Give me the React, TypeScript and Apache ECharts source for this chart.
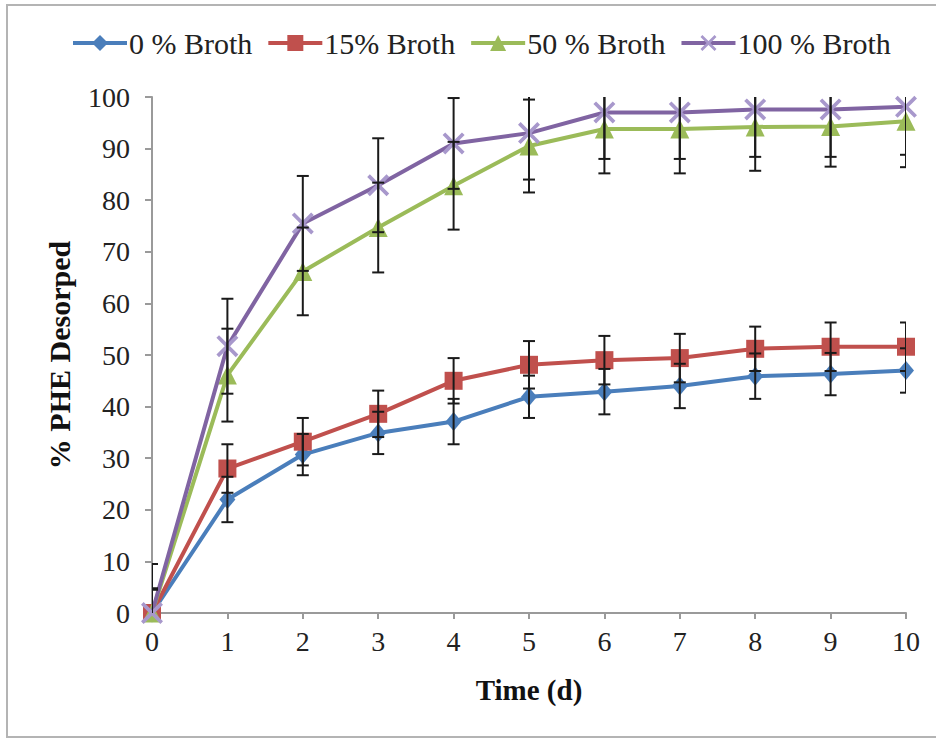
import React, { useEffect, useRef } from "react";
import * as echarts from "echarts";

const days = [0, 1, 2, 3, 4, 5, 6, 7, 8, 9, 10];
const seriesNames = ["0 % Broth", "15% Broth", "50 % Broth", "100 % Broth"];
const broth0 = [0, 22, 30.7, 34.9, 37.1, 41.9, 42.9, 44, 45.9, 46.3, 47];
const broth15 = [0, 28, 33.2, 38.6, 45, 48.1, 49, 49.4, 51.2, 51.6, 51.6];
const broth50 = [0, 46.1, 66.2, 74.7, 82.8, 90.5, 93.8, 93.8, 94.2, 94.3, 95.3];
const broth100 = [0, 51.7, 75.5, 82.9, 91, 93, 97, 97, 97.6, 97.6, 98.1];
const err0 = [4.5, 4.4, 4, 4.1, 4.4, 4.1, 4.4, 4.3, 4.4, 4.1, 4.3];
const err15 = [4.8, 4.7, 4.6, 4.5, 4.4, 4.6, 4.7, 4.7, 4.3, 4.7, 4.7];
const err50 = [9.5, 9, 8.5, 8.7, 8.5, 9, 8.6, 8.6, 8.5, 7.8, 8.9];
const err100 = [9.5, 9.2, 9.2, 9.1, 8.8, 9, 9, 9, 9.2, 9.2, 9.3];
const yTicks = [0, 10, 20, 30, 40, 50, 60, 70, 80, 90, 100];

const colors = ["#4A7EBB", "#C0504D", "#9BBB59", "#8064A2"];
const symbols = [
  "diamond",
  "rect",
  "triangle",
  "path://M0,1.2L1.2,0L10,8.8L8.8,10Z M8.8,0L10,1.2L1.2,10L0,8.8Z",
];
const symbolSizes = [[16, 19], 18, 19, 22];
const FONT = "'Liberation Serif', 'Times New Roman', serif";

export default function App() {
  const ref = useRef<HTMLDivElement>(null);
  useEffect(() => {
    if (!ref.current) return;
    const chart = echarts.init(ref.current, null, { renderer: "svg" });
    const values = [broth0, broth15, broth50, broth100];
    const errs = [err0, err15, err50, err100];

    const lineSeries = values.map((vals, i) => ({
      name: seriesNames[i],
      type: "line",
      data: days.map((d, j) => [d, vals[j]]),
      symbol: symbols[i],
      symbolSize: symbolSizes[i],
      showAllSymbol: true,
      lineStyle: { color: colors[i], width: 4 },
      itemStyle: {
        color: i === 3 ? "#A898CC" : colors[i],
        borderColor: i === 3 ? "#A898CC" : colors[i],
        borderWidth: 0,
      },
      z: 2 + i,
      clip: false,
    }));

    const errSeries = values.map((vals, i) => ({
      type: "custom",
      name: seriesNames[i] + " err",
      data: days.map((d, j) => [d, vals[j], errs[i][j]]),
      clip: true,
      z: 10,
      silent: true,
      renderItem: (params: any, api: any) => {
        const x = api.value(0);
        const y = api.value(1);
        const e = api.value(2);
        const top = api.coord([x, y + e]);
        const bot = api.coord([x, y - e]);
        const hw = 6;
        return {
          type: "group",
          children: [
            { type: "line", shape: { x1: top[0], y1: top[1], x2: bot[0], y2: bot[1] }, style: { stroke: "#1a1a1a", lineWidth: 2 } },
            { type: "line", shape: { x1: top[0] - hw, y1: top[1], x2: top[0] + hw, y2: top[1] }, style: { stroke: "#1a1a1a", lineWidth: 2 } },
            { type: "line", shape: { x1: bot[0] - hw, y1: bot[1], x2: bot[0] + hw, y2: bot[1] }, style: { stroke: "#1a1a1a", lineWidth: 2 } },
          ],
        };
      },
    }));

    chart.setOption({
      animation: false,
      backgroundColor: "#ffffff",
      textStyle: { fontFamily: FONT },
      graphic: [
        {
          type: "rect",
          shape: { x: 7, y: 5, width: 1000, height: 732 },
          style: { fill: "none", stroke: "#b4b4b4", lineWidth: 2 },
          silent: true,
        },
      ],
      legend: {
        data: seriesNames,
        left: 66,
        top: 23,
        itemWidth: 54,
        itemHeight: 20,
        itemGap: 14,
        lineStyle: { width: 4 },
        textStyle: { fontFamily: FONT, fontSize: 30, color: "#222", padding: [0, 0, 0, -3] },
      },
      grid: { left: 152, right: 30, top: 97, bottom: 126 },
      xAxis: {
        type: "value",
        min: 0,
        max: 10,
        interval: 1,
        name: "Time (d)",
        nameLocation: "middle",
        nameGap: 62,
        nameTextStyle: { fontFamily: FONT, fontSize: 29, fontWeight: "bold", color: "#111" },
        axisLine: { show: true, lineStyle: { color: "#9a9a9a", width: 2 } },
        axisTick: { show: true, length: 6, lineStyle: { color: "#9a9a9a", width: 2 } },
        axisLabel: { fontFamily: FONT, fontSize: 28, color: "#222", margin: 14 },
        splitLine: { show: false },
      },
      yAxis: {
        type: "value",
        min: 0,
        max: 100,
        interval: 10,
        name: "% PHE Desorped",
        nameLocation: "middle",
        nameRotate: 90,
        nameGap: 78,
        nameTextStyle: { fontFamily: FONT, fontSize: 30, fontWeight: "bold", color: "#111" },
        axisLine: { show: true, lineStyle: { color: "#9a9a9a", width: 2 } },
        axisTick: { show: true, length: 7, lineStyle: { color: "#9a9a9a", width: 2 } },
        axisLabel: {
          fontFamily: FONT,
          fontSize: 28,
          color: "#222",
          margin: 22,
          formatter: (v: number) => (yTicks.includes(v) ? String(v) : ""),
        },
        splitLine: { show: false },
      },
      series: [...lineSeries, ...errSeries],
    });
    return () => chart.dispose();
  }, []);
  return (
    <div
      ref={ref}
      style={{ position: "absolute", left: 0, top: 0, width: 936, height: 739 }}
    />
  );
}
